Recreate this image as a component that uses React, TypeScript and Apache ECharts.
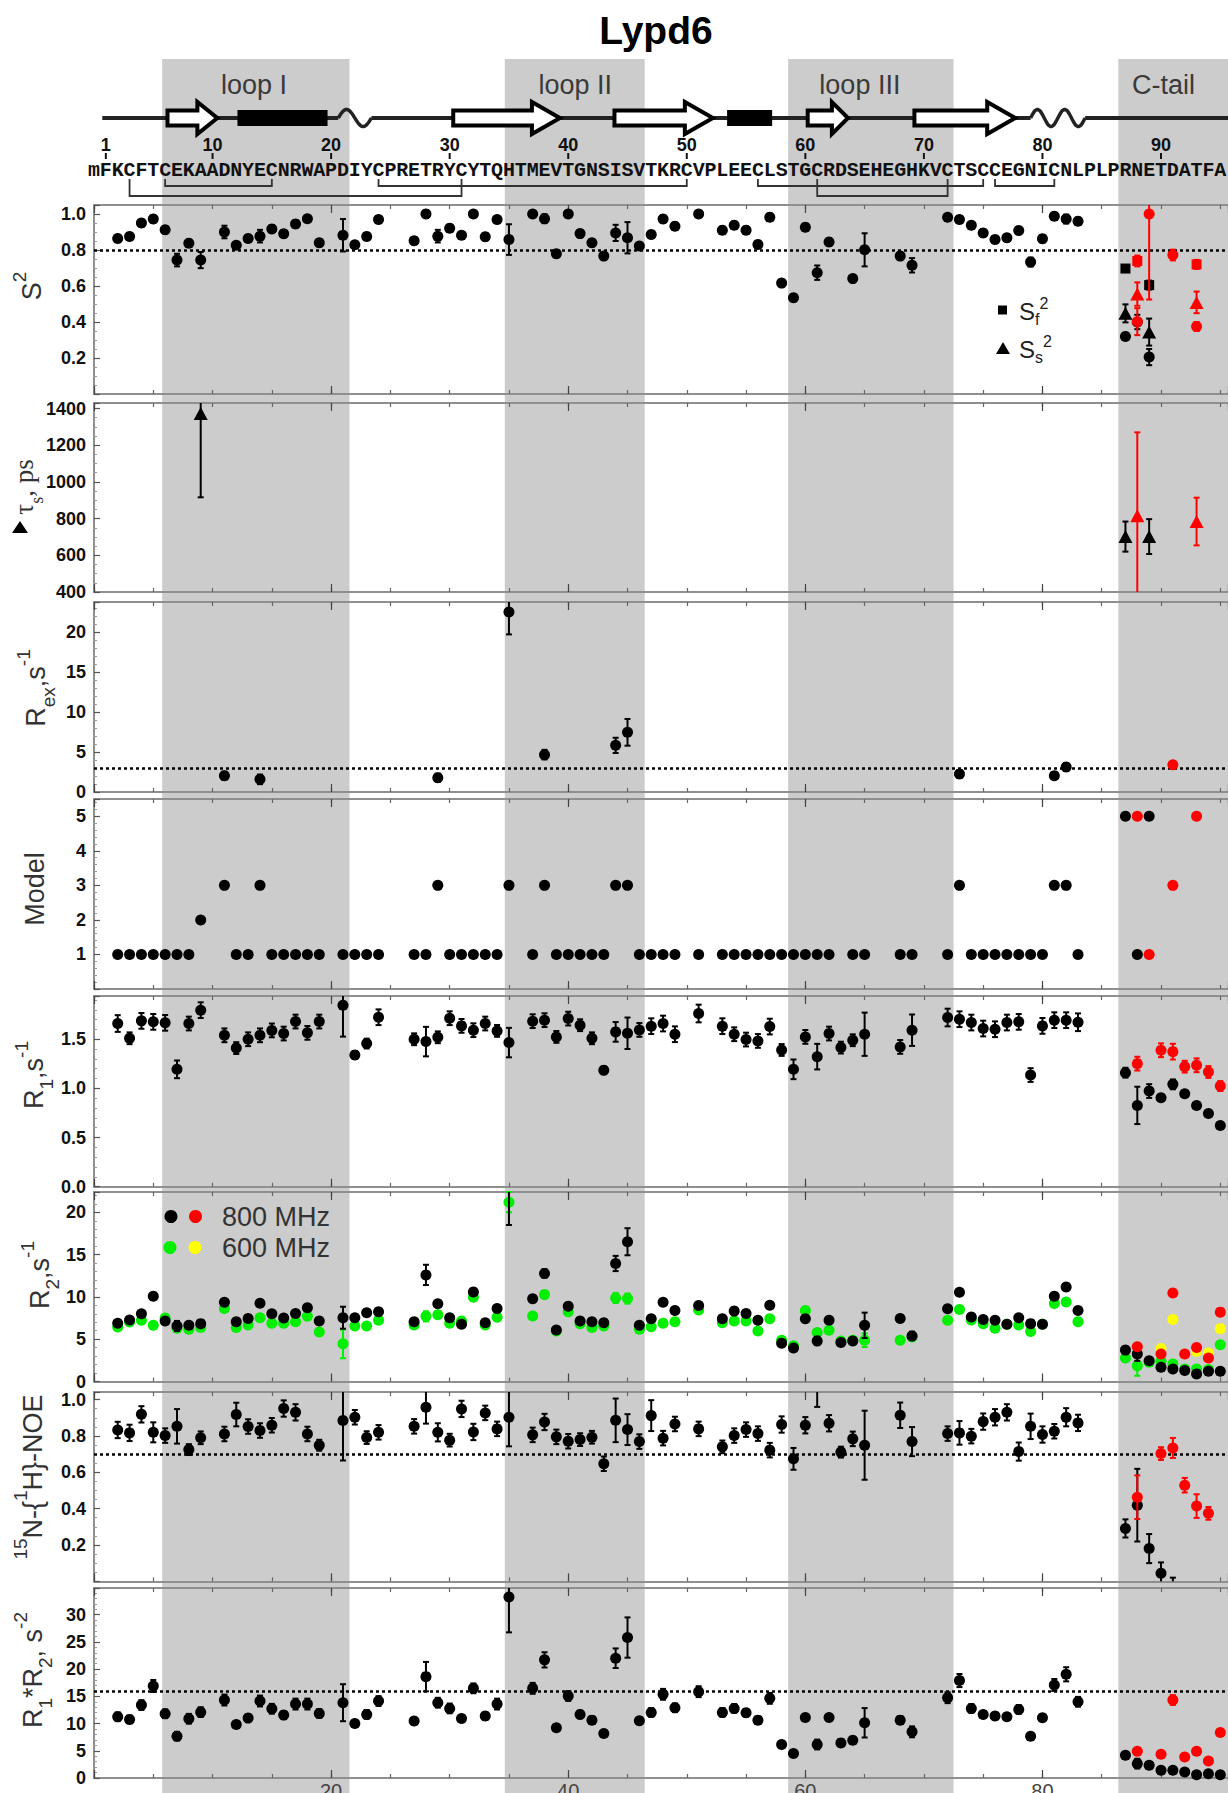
import React, { useEffect, useRef } from "react";
import * as echarts from "echarts";

// ---------- sequence and secondary structure (residue numbers) ----------
const SEQUENCE = "mFKCFTCEKAADNYECNRWAPDIYCPRETRYCYTQHTMEVTGNSISVTKRCVPLEECLSTGCRDSEHEGHKVCTSCCEGNICNLPLPRNETDATFA";
const SEQ_NUMBERS = [1, 10, 20, 30, 40, 50, 60, 70, 80, 90];
const REGIONS = [[5.75, 21.55], [34.65, 46.45], [58.55, 72.5], [86.4, 95.65]];
const REGION_NAMES: [string, number][] = [["loop I", 13.5], ["loop II", 40.6], ["loop III", 64.6], ["C-tail", 90.2]];
const STRANDS = [[6.2, 10.4], [30.3, 39.3], [43.9, 52.2], [60.2, 63.6], [69.2, 77.7]];
const HELICES = [[12.1, 19.7], [53.4, 57.2]];
const TURNS = [[20.6, 23.4, 1], [79.0, 83.6, 2]];
const BACKBONE = [0.7, 95.65];
// [cys A, cys B, bracket level]
const SS_BONDS = [[3, 31, 1], [6, 15, 0], [24, 50, 0], [56, 75, 0], [61, 72, 1], [76, 81, 0]];

// ---------- order parameters: [residue, value, error] ----------
const S2_BLACK = [
  [2, .864, .02], [3, .875, .02], [4, .95, .02], [5, .972, .02], [6, .912, .02], [7, .744, .035], [8, .838, .02], [9, .744, .045],
  [11, .90, .035], [12, .827, .015], [13, .864, .02], [14, .877, .035], [15, .917, .02], [16, .89, .02], [17, .945, .02], [18, .974, .015], [19, .84, .02],
  [21, .882, .09], [22, .829, .015], [23, .875, .02], [24, .969, .02],
  [27, .851, .02], [28, 1.0, .02], [29, .877, .035], [30, .921, .02], [31, .882, .015], [32, 1.0, .01], [33, .873, .02], [34, .969, .02], [35, .858, .085],
  [37, 1.0, .01], [38, .974, .025], [39, .779, .02], [40, 1.0, .01], [41, .891, .02], [42, .84, .02], [43, .766, .015], [44, .895, .045], [45, .868, .087],
  [46, .822, .015], [47, .886, .02], [48, .972, .02], [49, .932, .02],
  [51, 1.0, .01], [53, .91, .02], [54, .937, .02], [55, .91, .02], [56, .831, .02], [57, .982, .02], [58, .616, .015], [59, .535, .02], [60, .926, .02],
  [61, .674, .04], [62, .844, .02], [64, .641, .015], [65, .801, .092], [68, .766, .02], [69, .715, .04],
  [72, .982, .015], [73, .969, .02], [74, .937, .015], [75, .895, .02], [76, .858, .02], [77, .868, .02], [78, .908, .02], [79, .733, .025],
  [80, .862, .02], [81, .987, .02], [82, .972, .025], [83, .96, .02],
  [87, .32, .02], [88, .40, .04], [89, .205, .045],
];
const S2_RED = [[88, .402, .075], [89, 1.0, .475], [91, .772, .03], [93, .375, .025]];
const SF_BLACK = [[87, .697, .015], [89, .605, .025]];
const SF_RED = [[88, .739, .03], [93, .72, .025]];
const SS_BLACK = [[87, .448, .05], [89, .344, .075]];
const SS_RED = [[88, .555, .065], [93, .509, .06]];

const TAU_BLACK = [[9, 1373, 457], [87, 702, 82], [89, 702, 95]];
const TAU_RED = [[88, 815, 455], [93, 784, 130]];

const REX_BLACK = [[11, 2.04, .5], [14, 1.58, .6], [29, 1.79, .5], [35, 22.5, 2.8], [38, 4.67, .6], [44, 5.83, .95], [45, 7.46, 1.67], [73, 2.25, .5], [81, 2.04, .4], [82, 3.12, .5]];
const REX_RED = [[91, 3.42, .35]];

const MODEL_BLACK = [
  [2, 1], [3, 1], [4, 1], [5, 1], [6, 1], [7, 1], [8, 1], [9, 2], [11, 3], [12, 1], [13, 1], [14, 3], [15, 1], [16, 1], [17, 1], [18, 1], [19, 1],
  [21, 1], [22, 1], [23, 1], [24, 1], [27, 1], [28, 1], [29, 3], [30, 1], [31, 1], [32, 1], [33, 1], [34, 1], [35, 3],
  [37, 1], [38, 3], [39, 1], [40, 1], [41, 1], [42, 1], [43, 1], [44, 3], [45, 3], [46, 1], [47, 1], [48, 1], [49, 1], [51, 1],
  [53, 1], [54, 1], [55, 1], [56, 1], [57, 1], [58, 1], [59, 1], [60, 1], [61, 1], [62, 1], [64, 1], [65, 1], [68, 1], [69, 1],
  [72, 1], [73, 3], [74, 1], [75, 1], [76, 1], [77, 1], [78, 1], [79, 1], [80, 1], [81, 3], [82, 3], [83, 1], [87, 5], [88, 1], [89, 5],
];
const MODEL_RED = [[88, 5], [89, 1], [91, 3], [93, 5]];

// ---------- relaxation data: [residue, value, error] ----------
const R1_BLACK = [
  [2, 1.66, .085], [3, 1.51, .06], [4, 1.687, .08], [5, 1.677, .08], [6, 1.667, .08], [7, 1.194, .09], [8, 1.66, .07], [9, 1.796, .08],
  [11, 1.54, .07], [12, 1.41, .06], [13, 1.50, .07], [14, 1.54, .07], [15, 1.59, .07], [16, 1.558, .07], [17, 1.68, .07], [18, 1.565, .07], [19, 1.68, .07],
  [21, 1.847, .32], [22, 1.34, .04], [23, 1.456, .05], [24, 1.724, .08],
  [27, 1.50, .06], [28, 1.476, .15], [29, 1.52, .06], [30, 1.714, .07], [31, 1.636, .07], [32, 1.592, .07], [33, 1.66, .07], [34, 1.585, .06], [35, 1.466, .15],
  [37, 1.684, .07], [38, 1.694, .07], [39, 1.524, .06], [40, 1.71, .07], [41, 1.643, .06], [42, 1.51, .06], [43, 1.184, .04], [44, 1.575, .1], [45, 1.561, .16],
  [46, 1.595, .07], [47, 1.633, .08], [48, 1.66, .08], [49, 1.551, .08], [51, 1.762, .09],
  [53, 1.633, .08], [54, 1.551, .07], [55, 1.497, .07], [56, 1.483, .07], [57, 1.629, .08], [58, 1.391, .06], [59, 1.194, .1], [60, 1.524, .07],
  [61, 1.323, .13], [62, 1.558, .07], [63, 1.415, .06], [64, 1.49, .06], [65, 1.551, .22], [68, 1.422, .07], [69, 1.592, .16],
  [72, 1.721, .09], [73, 1.704, .08], [74, 1.67, .08], [75, 1.609, .08], [76, 1.602, .08], [77, 1.67, .08], [78, 1.677, .08], [79, 1.136, .07],
  [80, 1.636, .08], [81, 1.694, .08], [82, 1.694, .08], [83, 1.673, .09],
  [87, 1.16, .05], [88, .827, .19], [89, .973, .07], [90, .905, .03], [91, 1.041, .05], [92, .946, .03], [93, .827, .03], [94, .745, .02], [95, .622, .02],
];
const R1_RED = [[88, 1.252, .07], [90, 1.388, .07], [91, 1.374, .08], [92, 1.221, .06], [93, 1.235, .07], [94, 1.167, .06], [95, 1.024, .05]];

const R2_800 = [
  [2, 6.875, .2], [3, 7.27, .2], [4, 8.0, .2], [5, 10.08, .4], [6, 7.15, .2], [7, 6.56, .6], [8, 6.64, .2], [9, 6.84, .2],
  [11, 9.375, .3], [12, 7.07, .2], [13, 7.46, .2], [14, 9.26, .3], [15, 8.0, .2], [16, 7.5, .2], [17, 8.05, .2], [18, 8.71, .3], [19, 7.15, .2],
  [21, 7.54, 1.3], [22, 7.54, .2], [23, 8.125, .2], [24, 8.24, .2],
  [27, 7.07, .2], [28, 12.6, 1.2], [29, 9.18, .3], [30, 7.54, .2], [31, 6.76, .2], [32, 10.59, .4], [33, 6.95, .2], [34, 8.63, .2], [35, 22.5, 4.0],
  [37, 9.77, .4], [38, 12.77, .5], [39, 6.09, .2], [40, 8.9, .3], [41, 7.15, .2], [42, 7.07, .2], [43, 6.95, .2], [44, 13.95, .9], [45, 16.52, 1.6],
  [46, 6.64, .2], [47, 7.42, .2], [48, 9.375, .2], [49, 8.4, .2], [51, 8.98, .2],
  [53, 7.42, .2], [54, 8.32, .2], [55, 8.05, .2], [56, 7.23, .2], [57, 9.02, .2], [58, 4.53, .2], [59, 3.95, .2], [60, 7.42, .2],
  [61, 4.8, .5], [62, 7.23, .2], [63, 4.6, .2], [64, 4.8, .2], [65, 6.64, 1.5], [68, 7.46, .2], [69, 5.39, .5],
  [72, 8.6, .2], [73, 10.55, .3], [74, 7.62, .2], [75, 7.34, .2], [76, 7.23, .2], [77, 6.76, .2], [78, 7.54, .2], [79, 6.84, .2],
  [80, 6.76, .2], [81, 10.08, .4], [82, 11.17, .4], [83, 8.4, .2],
  [87, 3.71, .2], [88, 3.24, .8], [89, 2.46, .2], [90, 1.68, .1], [91, 1.48, .1], [92, 1.29, .1], [93, .9, .1], [94, 1.21, .1], [95, 1.21, .1],
];
const R2_600 = [
  [2, 6.45, .2], [3, 7.03, .2], [4, 7.23, .2], [5, 6.64, .2], [6, 7.5, .2], [7, 6.29, .2], [8, 6.17, .2], [9, 6.37, .2],
  [11, 8.63, .2], [12, 6.37, .2], [13, 6.68, .2], [14, 7.54, .2], [15, 6.875, .2], [16, 6.875, .2], [17, 7.07, .2], [18, 7.7, .2], [19, 5.86, .2],
  [21, 4.45, 1.7], [22, 6.56, .2], [23, 6.56, .2], [24, 7.23, .2],
  [27, 6.68, .2], [28, 7.7, .6], [29, 7.9, .2], [30, 6.875, .2], [31, 7.15, .2], [32, 9.96, .2], [33, 6.68, .2], [34, 7.6, .2], [35, 21.2, 1.2],
  [37, 7.73, .2], [38, 10.27, .3], [39, 5.98, .2], [40, 8.24, .2], [41, 6.84, .2], [42, 6.37, .2], [43, 6.56, .2], [44, 9.88, .6], [45, 9.8, .6],
  [46, 6.17, .2], [47, 6.48, .2], [48, 6.875, .2], [49, 7.07, .2], [51, 8.44, .2],
  [53, 6.95, .2], [54, 7.15, .2], [55, 7.15, .2], [56, 5.98, .2], [57, 7.42, .2], [58, 4.88, .2], [59, 4.22, .2], [60, 8.4, .2],
  [61, 5.78, .4], [62, 6.05, .2], [63, 4.8, .2], [64, 4.88, .2], [65, 4.88, .8], [68, 4.88, .2], [69, 5.27, .2],
  [72, 7.23, .2], [73, 8.52, .2], [74, 7.27, .2], [75, 6.84, .2], [76, 6.29, .2], [77, 6.76, .2], [78, 6.68, .2], [79, 5.9, .2],
  [80, 6.76, .2], [81, 9.22, .2], [82, 9.41, .2], [83, 7.07, .2],
  [87, 2.77, .2], [88, 1.875, 1.2], [89, 2.27, .2], [90, 2.38, .2], [91, 2.07, .2], [92, 1.48, .1], [93, 1.48, .1], [94, 1.41, .1], [95, 4.34, .2],
];
const R2_800_RED = [[88, 4.1, .2], [90, 3.24, .2], [91, 10.47, .3], [92, 3.24, .2], [93, 4.02, .2], [94, 2.77, .2], [95, 8.2, .2]];
const R2_600_YELLOW = [[90, 3.9, .2], [91, 7.34, .2], [93, 3.55, .2], [94, 3.36, .2], [95, 6.25, .2]];

const NOE_BLACK = [
  [2, .833, .045], [3, .817, .045], [4, .919, .045], [5, .82, .055], [6, .802, .04], [7, .853, .095], [8, .725, .03], [9, .79, .035],
  [11, .811, .04], [12, .918, .065], [13, .852, .04], [14, .83, .04], [15, .859, .04], [16, .951, .045], [17, .93, .045], [18, .811, .04], [19, .749, .03],
  [21, .885, .22], [22, .903, .04], [23, .791, .035], [24, .82, .04],
  [27, .853, .04], [28, .958, .09], [29, .82, .05], [30, .777, .035], [31, .949, .045], [32, .822, .045], [33, .927, .04], [34, .839, .04], [35, .903, .16],
  [37, .806, .04], [38, .877, .045], [39, .795, .04], [40, .771, .04], [41, .78, .035], [42, .793, .035], [43, .647, .04], [44, .886, .12], [45, .835, .085],
  [46, .769, .04], [47, .912, .085], [48, .788, .04], [49, .866, .04], [51, .839, .04],
  [53, .74, .035], [54, .802, .04], [55, .835, .04], [56, .813, .04], [57, .722, .04], [58, .863, .045], [59, .674, .06], [60, .859, .045],
  [61, 1.06, .1], [62, .87, .045], [63, .711, .03], [64, .784, .04], [65, .749, .19], [68, .914, .07], [69, .769, .08],
  [72, .813, .04], [73, .817, .065], [74, .799, .04], [75, .879, .045], [76, .903, .045], [77, .93, .045], [78, .714, .05], [79, .853, .07],
  [80, .808, .045], [81, .826, .04], [82, .903, .05], [83, .872, .045],
  [87, .291, .05], [88, .419, .2], [89, .18, .08], [90, .044, .06], [91, -.02, .04],
];
const NOE_RED = [[88, .463, .12], [90, .703, .035], [91, .734, .055], [92, .529, .04], [93, .414, .065], [94, .374, .035]];

const R1R2_BLACK = [
  [2, 11.25, .8], [3, 10.76, .7], [4, 13.4, .9], [5, 16.9, 1.1], [6, 11.8, .8], [7, 7.68, .8], [8, 10.88, .9], [9, 12.1, .9],
  [11, 14.32, 1.0], [12, 9.83, .6], [13, 11.0, .7], [14, 14.14, 1.0], [15, 12.72, .9], [16, 11.55, .7], [17, 13.58, 1.0], [18, 13.58, 1.0], [19, 11.86, .8],
  [21, 13.83, 3.4], [22, 10.02, .5], [23, 11.68, .8], [24, 14.14, .9],
  [27, 10.45, .6], [28, 18.62, 2.7], [29, 13.83, .9], [30, 12.78, .9], [31, 10.94, .6], [32, 16.47, .9], [33, 11.37, .7], [34, 13.58, 1.0], [35, 33.25, 6.5],
  [37, 16.47, 1.0], [38, 21.7, 1.4], [39, 9.22, .5], [40, 15.06, .9], [41, 11.68, .7], [42, 10.63, .6], [43, 8.17, .4], [44, 22.0, 1.8], [45, 25.8, 3.7],
  [46, 10.5, .6], [47, 12.05, .8], [48, 15.37, 1.0], [49, 12.9, .8], [51, 15.86, 1.0],
  [53, 12.05, .8], [54, 12.78, .8], [55, 11.98, .7], [56, 10.63, .6], [57, 14.63, 1.0], [58, 6.15, .4], [59, 4.49, .4], [60, 11.12, .6],
  [61, 6.15, .9], [62, 11.12, .6], [63, 6.45, .4], [64, 6.95, .4], [65, 10.14, 2.7], [68, 10.63, .7], [69, 8.48, 1.0],
  [72, 14.75, 1.0], [73, 17.9, 1.2], [74, 12.78, .8], [75, 11.68, .6], [76, 11.37, .6], [77, 11.25, .6], [78, 12.6, .8], [79, 7.68, .4],
  [80, 11.06, .6], [81, 17.09, 1.1], [82, 19.05, 1.3], [83, 14.0, .9],
  [87, 4.18, .3], [88, 2.64, .9], [89, 2.34, .3], [90, 1.41, .2], [91, 1.41, .2], [92, 1.1, .2], [93, .61, .1], [94, .8, .1], [95, .61, .1],
];
const R1R2_RED = [[88, 4.92, .3], [90, 4.36, .3], [91, 14.32, .9], [92, 3.87, .3], [93, 4.92, .3], [94, 3.13, .3], [95, 8.36, .4]];

// dotted reference levels
const S2_REF = 0.8;
const REX_REF = 3.0;
const NOE_REF = 0.7;
const R1R2_REF = 16;

// ---------- layout ----------
const W = 1228;
const H = 1793;
const X_MIN = 0;
const X_MAX = 95.65;
const LEFT = 94;
const FONT = '"Liberation Sans", Arial, Helvetica, sans-serif';
const SERIF = '"Liberation Serif", "Times New Roman", serif';
const MONO = '"Liberation Mono", "Courier New", monospace';
const BLACK = "#000000";
const RED = "#ff0000";
const GREEN = "#00ee00";
const YELLOW = "#ffff00";
const SHADE = "#cccccc";
const AXIS_GRAY = "#8f8f8f";

// header rows (px from the top of the page)
const BB_Y = 118;
const LOOP_LABEL_Y = 85;
const NUM_Y = 145;
const NUM_TICK = [153, 159];
const SEQ_Y = 170;
const BOND_TOP = 179;
const BOND_LEVELS = [186, 196];

const isMult = (v: number, s: number) => Math.abs(v / s - Math.round(v / s)) < 1e-6;

const PANELS = [
  { top: 205, height: 189, min: 0, max: 1.05, step: 0.2, minor: 4, fmt: (v: number) => (v > 0 && isMult(v, 0.2) ? v.toFixed(1) : "") },
  { top: 403, height: 189, min: 400, max: 1430, step: 200, minor: 4, fmt: (v: number) => (isMult(v, 200) ? String(Math.round(v)) : "") },
  { top: 602, height: 190, min: 0, max: 23.75, step: 5, minor: 5, fmt: (v: number) => (isMult(v, 5) ? String(Math.round(v)) : "") },
  { top: 799, height: 190, min: 0, max: 5.5, step: 1, minor: 5, fmt: (v: number) => (v > 0 && isMult(v, 1) ? String(Math.round(v)) : "") },
  { top: 996, height: 190.7, min: 0, max: 1.94, step: 0.5, minor: 5, fmt: (v: number) => (isMult(v, 0.5) ? v.toFixed(1) : "") },
  { top: 1192, height: 189.5, min: 0, max: 22.4, step: 5, minor: 5, fmt: (v: number) => (isMult(v, 5) ? String(Math.round(v)) : "") },
  { top: 1392, height: 189.3, min: 0, max: 1.042, step: 0.2, minor: 4, fmt: (v: number) => (v > 0 && isMult(v, 0.2) ? v.toFixed(1) : "") },
  { top: 1588, height: 190, min: 0, max: 34.9, step: 5, minor: 5, fmt: (v: number) => (isMult(v, 5) ? String(Math.round(v)) : "") },
];

function buildOption() {
  const grid: any[] = [];
  const xAxis: any[] = [];
  const yAxis: any[] = [];
  const series: any[] = [];

  PANELS.forEach((p, i) => {
    grid.push({ left: LEFT, right: 0, top: p.top, height: p.height, outerBoundsMode: "none", containLabel: false });
    const baseX = {
      gridIndex: i, type: "value", min: X_MIN, max: X_MAX, splitLine: { show: false },
      axisLine: { show: true, onZero: false, lineStyle: { color: AXIS_GRAY, width: 2 } },
    };
    const minorTick = { inside: true, length: 4, lineStyle: { color: "#666", width: 1.2 } };
    const majorTick = { inside: true, length: 8, lineStyle: { color: "#444", width: 1.2 } };
    const last = i === PANELS.length - 1;
    xAxis.push({
      ...baseX, position: "bottom", interval: 5, axisTick: minorTick,
      axisLabel: last
        ? { show: true, margin: 3, fontSize: 20, color: "#444", fontFamily: FONT, formatter: (v: number) => (v > 0 && v < 95 && isMult(v, 20) ? String(v) : "") }
        : { show: false },
    });
    xAxis.push({ ...baseX, position: "top", interval: 5, axisTick: minorTick, axisLabel: { show: false } });
    xAxis.push({ ...baseX, position: "bottom", interval: 20, axisLine: { show: false }, axisTick: majorTick, axisLabel: { show: false } });
    xAxis.push({ ...baseX, position: "top", interval: 20, axisLine: { show: false }, axisTick: majorTick, axisLabel: { show: false } });
    yAxis.push({
      gridIndex: i, type: "value", min: p.min, max: p.max, interval: p.step, splitLine: { show: false },
      axisLine: { show: true, onZero: false, lineStyle: { color: AXIS_GRAY, width: 2 } },
      axisTick: { show: true, inside: true, length: 6, lineStyle: { color: "#555", width: 1.2 } },
      minorTick: { show: true, splitNumber: p.minor, length: 3, lineStyle: { color: "#999", width: 1 } },
      axisLabel: { show: true, margin: 8, fontSize: 18, fontWeight: "bold", color: "#111", fontFamily: FONT, formatter: p.fmt },
    });
  });

  // full-height strip for the shaded regions
  const SHADE_GRID = PANELS.length;
  grid.push({ left: LEFT, right: 0, top: 59, bottom: 0, outerBoundsMode: "none" });
  xAxis.push({ gridIndex: SHADE_GRID, type: "value", min: X_MIN, max: X_MAX, show: false });
  yAxis.push({ gridIndex: SHADE_GRID, type: "value", min: 0, max: 1, show: false });
  const SHADE_X = xAxis.length - 1;

  // header strip with the topology diagram; y measured downward in px
  const HEAD_GRID = PANELS.length + 1;
  grid.push({ left: LEFT, right: 0, top: 0, height: 210, outerBoundsMode: "none" });
  xAxis.push({ gridIndex: HEAD_GRID, type: "value", min: X_MIN, max: X_MAX, show: false });
  yAxis.push({ gridIndex: HEAD_GRID, type: "value", min: 0, max: 210, inverse: true, show: false });
  const HEAD_X = xAxis.length - 1;
  const HEAD_Y = yAxis.length - 1;

  series.push({
    type: "custom", xAxisIndex: SHADE_X, yAxisIndex: SHADE_GRID, z: -5, silent: true,
    data: REGIONS, encode: { x: [0, 1] },
    renderItem: (params: any, api: any) => {
      const a = api.coord([api.value(0), 1]);
      const b = api.coord([api.value(1), 0]);
      return { type: "rect", shape: { x: a[0], y: a[1], width: b[0] - a[0], height: b[1] - a[1] }, style: { fill: SHADE } };
    },
  });

  const head = (extra: any) => ({ type: "custom", xAxisIndex: HEAD_X, yAxisIndex: HEAD_Y, silent: true, z: 3, ...extra });
  const centered = { align: "center", verticalAlign: "middle", textAlign: "center", textVerticalAlign: "middle" };

  // backbone, interrupted at the 3-10 turns
  series.push(head({
    data: [BACKBONE], encode: { x: [0, 1] },
    renderItem: (params: any, api: any) => {
      const segs: number[][] = [];
      let s = api.value(0);
      TURNS.forEach((t) => { segs.push([s, t[0]]); s = t[1]; });
      segs.push([s, api.value(1)]);
      return {
        type: "group",
        children: segs.map(([a, b]) => {
          const p = api.coord([a, BB_Y]);
          const q = api.coord([b, BB_Y]);
          return { type: "line", shape: { x1: p[0], y1: p[1], x2: q[0], y2: q[1] }, style: { stroke: "#222", lineWidth: 4 } };
        }),
      };
    },
  }));
  series.push(head({
    data: TURNS, encode: { x: [0, 1] },
    renderItem: (params: any, api: any) => {
      const a = api.value(0), b = api.value(1), n = api.value(2);
      const pts: number[][] = [];
      for (let k = 0; k <= 60; k++) {
        const t = k / 60;
        pts.push(api.coord([a + (b - a) * t, BB_Y - 8.5 * Math.sin(2 * Math.PI * n * t)]));
      }
      return { type: "polyline", shape: { points: pts }, style: { stroke: "#222", lineWidth: 3.5, fill: null } };
    },
  }));
  series.push(head({
    data: HELICES, encode: { x: [0, 1] }, z: 4,
    renderItem: (params: any, api: any) => {
      const p = api.coord([api.value(0), BB_Y - 8]);
      const q = api.coord([api.value(1), BB_Y + 8]);
      return { type: "rect", shape: { x: p[0], y: p[1], width: q[0] - p[0], height: q[1] - p[1] }, style: { fill: "#000" } };
    },
  }));
  series.push(head({
    data: STRANDS, encode: { x: [0, 1] }, z: 4,
    renderItem: (params: any, api: any) => {
      const [x0, yc] = api.coord([api.value(0), BB_Y]);
      const [x1] = api.coord([api.value(1), BB_Y]);
      const hl = Math.min(28, 0.4 * (x1 - x0));
      const bh = 7.5, hh = 16;
      return {
        type: "polygon",
        shape: { points: [[x0, yc - bh], [x1 - hl, yc - bh], [x1 - hl, yc - hh], [x1, yc], [x1 - hl, yc + hh], [x1 - hl, yc + bh], [x0, yc + bh]] },
        style: { fill: "#fff", stroke: "#000", lineWidth: 4, lineJoin: "miter" },
      };
    },
  }));
  series.push(head({
    data: REGION_NAMES.map((r, i) => [r[1], i]), encode: { x: 0 },
    renderItem: (params: any, api: any) => {
      const p = api.coord([api.value(0), LOOP_LABEL_Y]);
      return {
        type: "text", x: p[0], y: p[1],
        style: { text: REGION_NAMES[params.dataIndex][0], fontSize: 27, fontFamily: FONT, fill: "#3a3a3a", ...centered },
      };
    },
  }));
  series.push(head({
    data: SEQ_NUMBERS.map((n) => [n]), encode: { x: 0 },
    renderItem: (params: any, api: any) => {
      const p = api.coord([api.value(0), NUM_Y]);
      const t1 = api.coord([api.value(0), NUM_TICK[0]]);
      const t2 = api.coord([api.value(0), NUM_TICK[1]]);
      return {
        type: "group",
        children: [
          { type: "text", x: p[0], y: p[1], style: { text: String(SEQ_NUMBERS[params.dataIndex]), fontSize: 18, fontWeight: "bold", fontFamily: FONT, fill: "#111", ...centered } },
          { type: "line", shape: { x1: t1[0], y1: t1[1], x2: t2[0], y2: t2[1] }, style: { stroke: "#111", lineWidth: 2 } },
        ],
      };
    },
  }));
  series.push(head({
    data: SEQUENCE.split("").map((c, i) => [i]), encode: { x: 0 },
    renderItem: (params: any, api: any) => {
      const p = api.coord([api.value(0), SEQ_Y]);
      return {
        type: "text", x: p[0], y: p[1],
        style: { text: SEQUENCE[params.dataIndex], fontSize: 20, fontWeight: "bold", fontFamily: MONO, fill: "#111", ...centered },
      };
    },
  }));
  series.push(head({
    data: SS_BONDS, encode: { x: [0, 1] },
    renderItem: (params: any, api: any) => {
      const lvl = BOND_LEVELS[api.value(2)];
      const a0 = api.coord([api.value(0), BOND_TOP]);
      const a1 = api.coord([api.value(0), lvl]);
      const b0 = api.coord([api.value(1), BOND_TOP]);
      const b1 = api.coord([api.value(1), lvl]);
      return { type: "polyline", shape: { points: [a0, a1, b1, b0] }, style: { stroke: "#333", lineWidth: 1.8, fill: null } };
    },
  }));

  // ---------- data panels ----------
  const pts = (i: number, data: number[][], color: string, symbol = "circle", size: any = 11, z = 6) => ({
    type: "scatter", xAxisIndex: 4 * i, yAxisIndex: i, silent: true, z,
    data: data.map((d) => [d[0], d[1]]), symbol, symbolSize: size,
    itemStyle: { color, opacity: 1 },
  });
  const bars = (i: number, data: number[][], color: string, z = 5) => {
    const lo = PANELS[i].min, hi = PANELS[i].max;
    return {
      type: "custom", xAxisIndex: 4 * i, yAxisIndex: i, silent: true, z,
      data, encode: { x: 0, y: 1 },
      renderItem: (params: any, api: any) => {
        const x = api.value(0), y = api.value(1), e = api.value(2);
        if (!e) return null;
        const a = y - e, b = y + e;
        const aa = Math.max(a, lo), bb = Math.min(b, hi);
        if (aa >= bb) return null;
        const p1 = api.coord([x, aa]);
        const p2 = api.coord([x, bb]);
        const st = { stroke: color, lineWidth: 2 };
        const ch: any[] = [{ type: "line", shape: { x1: p1[0], y1: p1[1], x2: p2[0], y2: p2[1] }, style: st }];
        if (a >= lo) ch.push({ type: "line", shape: { x1: p1[0] - 3, y1: p1[1], x2: p1[0] + 3, y2: p1[1] }, style: st });
        if (b <= hi) ch.push({ type: "line", shape: { x1: p2[0] - 3, y1: p2[1], x2: p2[0] + 3, y2: p2[1] }, style: st });
        return { type: "group", children: ch };
      },
    };
  };
  const refLine = (i: number, v: number) => ({
    type: "scatter", xAxisIndex: 4 * i, yAxisIndex: i, data: [], silent: true, z: 4,
    markLine: { silent: true, symbol: "none", label: { show: false }, lineStyle: { type: [3, 3], color: "#000", width: 2.5 }, data: [{ yAxis: v }] },
  });

  const TRI = "triangle";
  const SQ = "rect";

  // S2
  series.push(refLine(0, S2_REF));
  series.push(bars(0, S2_BLACK, BLACK), pts(0, S2_BLACK, BLACK));
  series.push(bars(0, SF_BLACK, BLACK), pts(0, SF_BLACK, BLACK, SQ, 10));
  series.push(bars(0, SS_BLACK, BLACK), pts(0, SS_BLACK, BLACK, TRI, [14, 13]));
  series.push(bars(0, S2_RED, RED, 7), pts(0, S2_RED, RED, "circle", 11, 8));
  series.push(bars(0, SF_RED, RED, 7), pts(0, SF_RED, RED, SQ, 10, 8));
  series.push(bars(0, SS_RED, RED, 7), pts(0, SS_RED, RED, TRI, [14, 13], 8));
  // tau_s
  series.push(bars(1, TAU_BLACK, BLACK), pts(1, TAU_BLACK, BLACK, TRI, [14, 13]));
  series.push(bars(1, TAU_RED, RED, 7), pts(1, TAU_RED, RED, TRI, [14, 13], 8));
  // Rex
  series.push(refLine(2, REX_REF));
  series.push(bars(2, REX_BLACK, BLACK), pts(2, REX_BLACK, BLACK));
  series.push(bars(2, REX_RED, RED, 7), pts(2, REX_RED, RED, "circle", 11, 8));
  // model
  series.push(pts(3, MODEL_BLACK, BLACK), pts(3, MODEL_RED, RED, "circle", 11, 8));
  // R1
  series.push(bars(4, R1_BLACK, BLACK), pts(4, R1_BLACK, BLACK));
  series.push(bars(4, R1_RED, RED, 7), pts(4, R1_RED, RED, "circle", 11, 8));
  // R2
  series.push(bars(5, R2_600, GREEN, 5), pts(5, R2_600, GREEN, "circle", 11, 6));
  series.push(bars(5, R2_600_YELLOW, "#e6e600", 5), pts(5, R2_600_YELLOW, YELLOW, "circle", 11, 6));
  series.push(bars(5, R2_800, BLACK, 7), pts(5, R2_800, BLACK, "circle", 11, 8));
  series.push(bars(5, R2_800_RED, RED, 7), pts(5, R2_800_RED, RED, "circle", 11, 8));
  // NOE
  series.push(refLine(6, NOE_REF));
  series.push(bars(6, NOE_BLACK, BLACK), pts(6, NOE_BLACK, BLACK));
  series.push(bars(6, NOE_RED, RED, 7), pts(6, NOE_RED, RED, "circle", 11, 8));
  // R1*R2
  series.push(refLine(7, R1R2_REF));
  series.push(bars(7, R1R2_BLACK, BLACK), pts(7, R1R2_BLACK, BLACK));
  series.push(bars(7, R1R2_RED, RED, 7), pts(7, R1R2_RED, RED, "circle", 11, 8));

  // ---------- axis names, title and legends ----------
  const nameRich = {
    m: { fontSize: 27, fontFamily: FONT, fill: "#333", lineHeight: 44 },
    sub: { fontSize: 19, fontFamily: FONT, fill: "#333", lineHeight: 20, verticalAlign: "bottom" },
    sup: { fontSize: 19, fontFamily: FONT, fill: "#333", lineHeight: 16, verticalAlign: "top" },
    t: { fontSize: 27, fontFamily: SERIF, fill: "#333", lineHeight: 44 },
    tsub: { fontSize: 18, fontFamily: SERIF, fill: "#333", lineHeight: 20, verticalAlign: "bottom" },
  };
  const vName = (x: number, y: number, text: string) => ({
    type: "text", x, y, rotation: Math.PI / 2,
    style: { text, rich: nameRich, fontSize: 27, fontFamily: FONT, fill: "#333", lineHeight: 44, ...centered },
  });
  const legRich = {
    m: { fontSize: 24, fontFamily: FONT, fill: "#222", lineHeight: 32 },
    sub: { fontSize: 16, fontFamily: FONT, fill: "#222", lineHeight: 14, verticalAlign: "bottom" },
    sup: { fontSize: 16, fontFamily: FONT, fill: "#222", lineHeight: 12, verticalAlign: "top" },
  };
  const leftMid = { align: "left", verticalAlign: "middle", textAlign: "left", textVerticalAlign: "middle" };

  const graphic: any[] = [
    { type: "text", x: 656, y: 30, style: { text: "Lypd6", fontSize: 39, fontWeight: "bold", fontFamily: FONT, fill: "#000", ...centered } },
    vName(32, 286, "{m|S}{sup|2}"),
    vName(24, 487, "{t|τ}{tsub|s}{t|, ps}"),
    { type: "polygon", shape: { points: [[12, 533], [28, 533], [20, 521]] }, style: { fill: "#000" } },
    vName(36, 688, "{m|R}{sub|ex}{m|,s}{sup|-1}"),
    vName(35, 889, "{m|Model}"),
    vName(34, 1075, "{m|R}{sub|1}{m|,s}{sup|-1}"),
    vName(40, 1275, "{m|R}{sub|2}{m|,s}{sup|-1}"),
    vName(33, 1477, "{sup|15}{m|N-{}{sup|1}{m|H}}{m|-NOE}"),
    vName(33, 1670, "{m|R}{sub|1}{m|*R}{sub|2}{m|, s}{sup|-2}"),
    // order-parameter legend
    { type: "rect", shape: { x: 998, y: 305.5, width: 9, height: 9 }, style: { fill: "#000" } },
    { type: "polygon", shape: { points: [[996, 354], [1010, 354], [1003, 342]] }, style: { fill: "#000" } },
    { type: "text", x: 1019, y: 311, style: { text: "{m|S}{sub|f}{sup|2}", rich: legRich, ...leftMid } },
    { type: "text", x: 1019, y: 349, style: { text: "{m|S}{sub|s}{sup|2}", rich: legRich, ...leftMid } },
    // field legend
    { type: "circle", shape: { cx: 171, cy: 1216.5, r: 6.5 }, style: { fill: BLACK } },
    { type: "circle", shape: { cx: 195.5, cy: 1216.5, r: 6.5 }, style: { fill: RED } },
    { type: "circle", shape: { cx: 170, cy: 1247.5, r: 6.5 }, style: { fill: GREEN } },
    { type: "circle", shape: { cx: 195, cy: 1247.5, r: 6.5 }, style: { fill: YELLOW } },
    { type: "text", x: 222, y: 1217, style: { text: "800 MHz", fontSize: 27, fontFamily: FONT, fill: "#333", ...leftMid } },
    { type: "text", x: 222, y: 1248, style: { text: "600 MHz", fontSize: 27, fontFamily: FONT, fill: "#333", ...leftMid } },
  ];

  return { animation: false, backgroundColor: "#ffffff", grid, xAxis, yAxis, series, graphic: { elements: graphic } };
}

export default function App() {
  const ref = useRef<HTMLDivElement>(null);
  useEffect(() => {
    if (!ref.current) return;
    const chart = echarts.init(ref.current, null, { renderer: "svg", width: W, height: H });
    chart.setOption(buildOption() as any);
    return () => chart.dispose();
  }, []);
  return <div ref={ref} style={{ position: "absolute", left: 0, top: 0, width: W, height: H }} />;
}
